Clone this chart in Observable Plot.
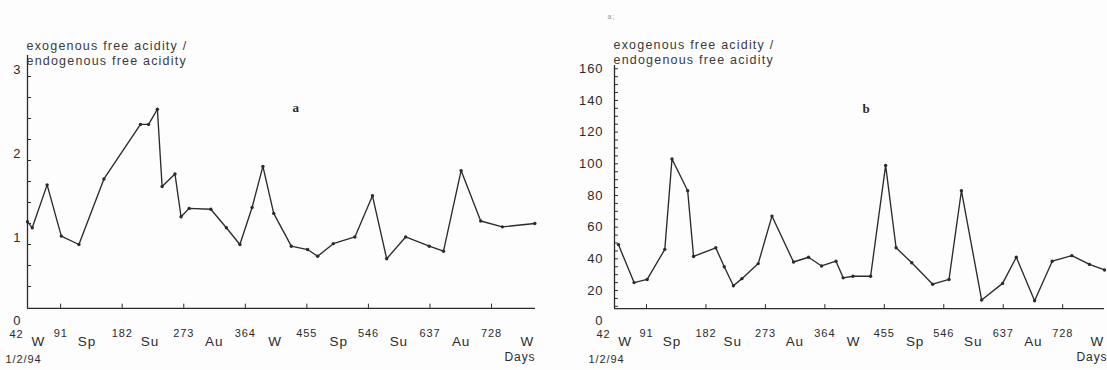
<!DOCTYPE html>
<html><head><meta charset="utf-8">
<script src="https://cdn.jsdelivr.net/npm/d3@7"></script>
<script src="https://cdn.jsdelivr.net/npm/@observablehq/plot@0.6"></script>
<style>
body{margin:0;background:#fff;}
#wrap{display:flex;width:1107px;height:370px;overflow:hidden;background:#fdfdfd;}
#wrap svg{flex:none;display:block;}
</style></head><body><div id="wrap"></div>
<script>
// ---- data ----
const dayTicks = [91, 182, 273, 364, 455, 546, 637, 728];
const firstDay = [42];
const seasonLabels = ["W", "Sp", "Su", "Au", "W", "Sp", "Su", "Au", "W"];
const seasonDays = [58, 130, 223, 318, 408, 502, 591, 683, 781];
const titleLines = ["exogenous free acidity /", "endogenous free acidity"];
const startDate = "1/2/94";
const xUnit = "Days";

const daysA = [42, 49, 71, 92, 118, 155, 209, 221, 234, 241, 260, 269, 281, 313, 336, 356, 374, 390, 406, 432, 456, 471, 494, 526, 552, 573, 601, 636, 657, 683, 712, 744, 792];
const ratioA = [1.27, 1.2, 1.71, 1.1, 1.0, 1.78, 2.43, 2.43, 2.61, 1.69, 1.84, 1.33, 1.43, 1.42, 1.2, 1.0, 1.44, 1.93, 1.37, 0.98, 0.94, 0.86, 1.01, 1.09, 1.58, 0.83, 1.09, 0.98, 0.92, 1.88, 1.28, 1.21, 1.25];
const yLabelsA = [0, 1, 2, 3];
const yTicksA = [0.5, 0.75, 1, 1.25, 1.5, 1.75, 2, 2.25, 2.5, 2.75, 3];

const daysB = [48, 72, 92, 119, 130, 154, 163, 197, 210, 224, 237, 262, 283, 316, 339, 359, 381, 392, 407, 434, 457, 473, 497, 529, 554, 573, 604, 636, 657, 685, 712, 742, 769, 792];
const ratioB = [49, 25, 27, 46, 103, 83, 41.5, 47, 35, 23, 27.5, 37, 67, 38, 41, 35.5, 38.5, 28, 29, 29, 99, 47, 37.5, 24, 27, 83, 14, 24.5, 41, 13.5, 38.5, 42, 36.5, 33];
const yLabelsB = [0, 20, 40, 60, 80, 100, 120, 140, 160];
const yTicksB = d3.range(10, 161, 5);

// ---- drawing ----
const ink = "#2b2b2b";
const sans = "'Liberation Sans', Arial, sans-serif";

function panel(o) {
  const data = o.days.map((d, i) => ({day: d, v: o.values[i]}));
  const x0 = o.xDomain[0], x1 = o.xDomain[1];
  const yLab = {x: x0, y: d => d, text: d => String(d), textAnchor: "end", dx: o.yLabDx, fontSize: 13, fill: ink};
  return Plot.plot({
    width: o.width, height: 370,
    marginLeft: o.ml, marginRight: o.mr, marginTop: o.mt, marginBottom: o.mb,
    x: {domain: o.xDomain, axis: null},
    y: {domain: o.yDomain, axis: null},
    style: {background: "transparent", fontFamily: sans, color: ink, letterSpacing: "0.9px", overflow: "visible"},
    marks: [
      // axis lines
      Plot.ruleY([o.base], {x1: x0, x2: x1, stroke: ink, strokeWidth: 1.3}),
      Plot.ruleX([x0], {y1: o.base, y2: o.yDomain[1], stroke: ink, strokeWidth: 1.3}),
      // inward ticks
      Plot.ruleY(o.yTicks, {y: d => d, x1: x0, x2: x0 + o.yTickLen, stroke: ink, strokeWidth: 1}),
      Plot.ruleX(dayTicks, {x: d => d, y1: o.base, y2: o.base + o.xTickLen, stroke: ink, strokeWidth: 1}),
      // y labels (zero label sits a little higher, just under the axis)
      Plot.text(o.yLabels.filter(d => d !== 0), {...yLab, dy: o.yLabDy}),
      Plot.text(o.yLabels.filter(d => d === 0), {...yLab, dy: o.yLabDy - o.zeroLift}),
      // x labels
      Plot.text(dayTicks, {x: d => d, frameAnchor: "bottom", dy: o.numDy, text: d => String(d), fontSize: 11, fill: ink}),
      Plot.text(firstDay, {x: d => d, frameAnchor: "bottom", dx: -11, dy: o.numDy + 1, text: d => String(d), fontSize: 11, fill: ink}),
      Plot.text(seasonDays, {x: d => d, frameAnchor: "bottom", dy: o.seaDy, text: (d, i) => seasonLabels[i], fontSize: 13.5, fill: ink}),
      Plot.text([startDate], {x: x0, frameAnchor: "bottom", textAnchor: "start", dx: o.dateDx, dy: o.dateDy, text: d => d, fontSize: 11, fill: ink}),
      Plot.text([xUnit], {x: x1, frameAnchor: "bottom", textAnchor: "end", dx: o.daysDx, dy: o.daysDy, text: d => d, fontSize: 12, fill: ink}),
      // y title
      Plot.text([titleLines[0]], {frameAnchor: "top-left", textAnchor: "start", dx: -1, dy: o.t1Dy, text: d => d, fontSize: 12.5, fill: "#3a3a3a"}),
      Plot.text([titleLines[1]], {frameAnchor: "top-left", textAnchor: "start", dx: -1, dy: o.t2Dy, text: d => d, fontSize: 12.5, fill: "#3a3a3a"}),
      // panel letter
      Plot.text([o.letter], {frameAnchor: "top-left", dx: o.letDx, dy: o.letDy, text: d => d, fontSize: 13, fontWeight: "bold", fontFamily: "'Liberation Serif', serif", fill: ink}),
      ...(o.extra || []),
      // series
      Plot.line(data, {x: "day", y: "v", stroke: ink, strokeWidth: 1.35}),
      Plot.dot(data, {x: "day", y: "v", r: 1.7, fill: ink, stroke: "none"})
    ]
  });
}

const wrap = document.getElementById("wrap");
wrap.append(panel({
  width: 553, ml: 27, mr: 18, mt: 55, mb: 42,
  xDomain: [42, 793], yDomain: [0, 3.25], base: 0.24,
  days: daysA, values: ratioA, yLabels: yLabelsA, yTicks: yTicksA,
  yTickLen: 6, xTickLen: 0.05,
  yLabDx: -6, yLabDy: -7, zeroLift: 1,
  numDy: 8, seaDy: 17, dateDx: -22, dateDy: 34, daysDx: 0, daysDy: 32,
  t1Dy: -14, t2Dy: 1, letter: "a", letDx: 265, letDy: 47
}));
wrap.append(panel({
  width: 554, ml: 61, mr: 3, mt: 65.1, mb: 48.3,
  xDomain: [42, 792], yDomain: [0, 162], base: 8.6,
  days: daysB, values: ratioB, yLabels: yLabelsB, yTicks: yTicksB,
  yTickLen: 6, xTickLen: 2.5,
  yLabDx: -11, yLabDy: 0, zeroLift: 1.5,
  numDy: 14.3, seaDy: 23.3, dateDx: -26, dateDy: 40.3, daysDx: 3, daysDy: 38.3,
  t1Dy: -25, t2Dy: -10, letter: "b", letDx: 248, letDy: 38,
  extra: [Plot.text(["a;"], {frameAnchor: "top-left", dx: -7, dy: -52, text: d => d, fontSize: 7, fill: "#999"})]
}));
// widen title letter spacing
document.querySelectorAll("svg g[font-size='12.5']").forEach(g => g.setAttribute("letter-spacing", "1.2px"));
</script></body></html>
